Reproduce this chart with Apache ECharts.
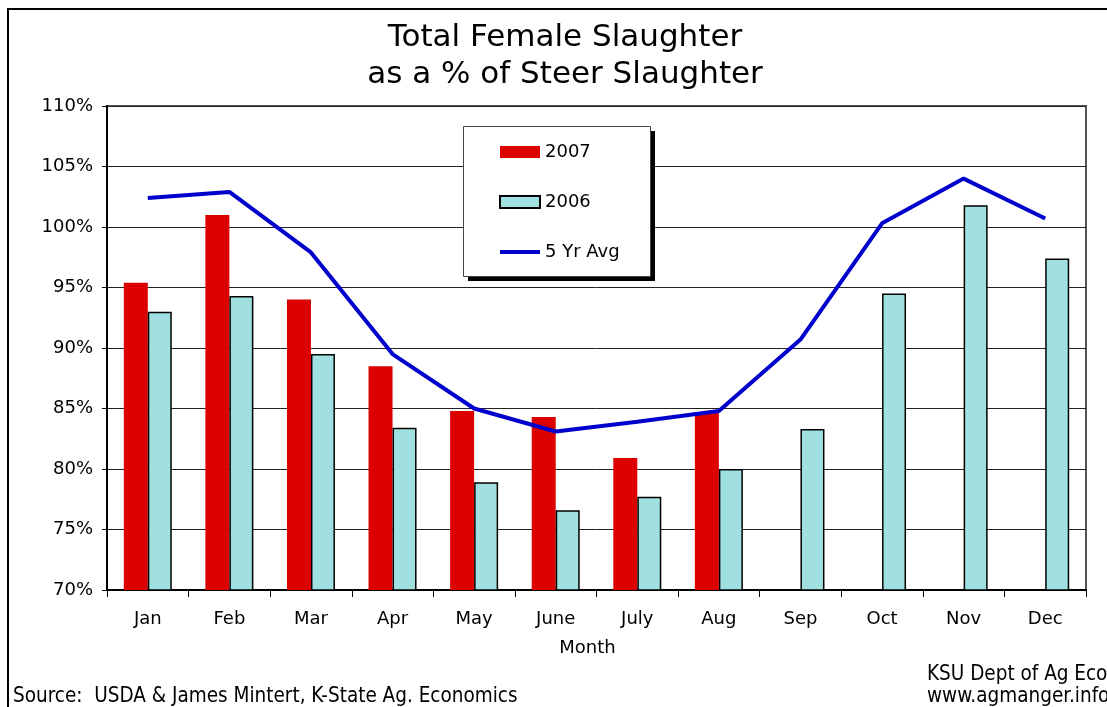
<!DOCTYPE html>
<html>
<head>
<meta charset="utf-8">
<script src="https://cdn.jsdelivr.net/npm/echarts@6/dist/echarts.min.js"></script>
<style>
html,body{margin:0;padding:0;background:#fff;}
#chart{width:1107px;height:707px;}
</style>
</head>
<body>
<div id="chart"></div>
<script>
const months = ['Jan','Feb','Mar','Apr','May','June','July','Aug','Sep','Oct','Nov','Dec'];
const y2007 = [95.4, 101.0, 94.0, 88.5, 84.8, 84.3, 80.9, 84.7, null, null, null, null];
const y2006 = [93.0, 94.3, 89.5, 83.4, 78.9, 76.6, 77.7, 80.0, 83.3, 94.5, 101.8, 97.4];
const avg5 = [102.4, 102.9, 97.9, 89.5, 85.0, 83.1, 83.9, 84.8, 90.7, 100.3, 104.0, 100.7];
const yTicks = {min: 70, max: 110, interval: 5};

const FONT = 'DejaVu Sans';
const NARROW = '"Liberation Sans Narrow", "DejaVu Sans Condensed", "Arial Narrow", sans-serif';

const chart = echarts.init(document.getElementById('chart'), null, {renderer: 'canvas'});
chart.setOption({
  backgroundColor: '#fff',
  animation: false,
  title: {
    text: 'Total Female Slaughter\nas a % of Steer Slaughter',
    left: 560, top: 14, textAlign: 'center',
    textStyle: {fontFamily: FONT, fontSize: 31, fontWeight: 'normal', color: '#000', lineHeight: 37}
  },
  grid: {left: 107, right: 21, top: 106, bottom: 117, show: true, borderColor: '#555', borderWidth: 2, backgroundColor: 'transparent'},
  legend: {
    orient: 'vertical', left: 493, top: 137, z: 20,
    itemWidth: 40, itemHeight: 12, itemGap: 30,
    textStyle: {fontFamily: FONT, fontSize: 18, color: '#000', lineHeight: 20},
    data: [
      {name: '2007', icon: 'rect'},
      {name: '2006', icon: 'rect'},
      {name: '5 Yr Avg', itemStyle: {opacity: 0}, lineStyle: {color: '#0000CC', width: 4}}
    ]
  },
  xAxis: {
    type: 'category', data: months,
    name: 'Month', nameLocation: 'middle', nameGap: 49,
    nameTextStyle: {fontFamily: FONT, fontSize: 18, color: '#000', padding: [0, 18, 0, 0]},
    axisLine: {lineStyle: {color: '#000', width: 2}},
    axisTick: {show: true, inside: false, length: 7, lineStyle: {color: '#000'}},
    axisLabel: {fontFamily: FONT, fontSize: 18, color: '#000', margin: 20}
  },
  yAxis: {
    type: 'value', min: yTicks.min, max: yTicks.max, interval: yTicks.interval,
    axisLine: {show: true, lineStyle: {color: '#000', width: 2}},
    axisTick: {show: true, length: 5, lineStyle: {color: '#000'}},
    axisLabel: {fontFamily: FONT, fontSize: 18, color: '#000', margin: 14, formatter: '{value}%'},
    splitLine: {show: true, lineStyle: {color: '#222', width: 1}}
  },
  series: [
    {name: '2007', type: 'bar', data: y2007, barWidth: 24, barGap: '0%',
     itemStyle: {color: '#DD0000'}, z: 3},
    {name: '2006', type: 'bar', data: y2006, barWidth: 24, barGap: '0%',
     itemStyle: {color: '#A0E0E0', borderColor: '#000', borderWidth: 1.5}, z: 3},
    {name: '5 Yr Avg', type: 'line', data: avg5, symbol: 'none', showSymbol: false, z: 5,
     itemStyle: {color: '#0000CC'},
     lineStyle: {color: '#0000CC', width: 4}}
  ],
  graphic: [
    {type: 'rect', z: 0, silent: true, shape: {x: 8, y: 9, width: 1200, height: 800},
     style: {fill: 'none', stroke: '#000', lineWidth: 2}},
    {type: 'rect', z: 8, silent: true, shape: {x: 468, y: 131, width: 187, height: 150},
     style: {fill: '#000'}},
    {type: 'rect', z: 9, silent: true, shape: {x: 463.5, y: 126.5, width: 187, height: 150},
     style: {fill: '#fff', stroke: '#444', lineWidth: 1}},
    {type: 'text', z: 10, left: 13, top: 686,
     style: {text: 'Source:  USDA & James Mintert, K-State Ag. Economics', font: '20.5px ' + NARROW, fill: '#000'}},
    {type: 'text', z: 10, left: 927, top: 664,
     style: {text: 'KSU Dept of Ag Econ\nwww.agmanger.info', font: '20.5px ' + NARROW, fill: '#000', lineHeight: 22}}
  ]
});
</script>
</body>
</html>
